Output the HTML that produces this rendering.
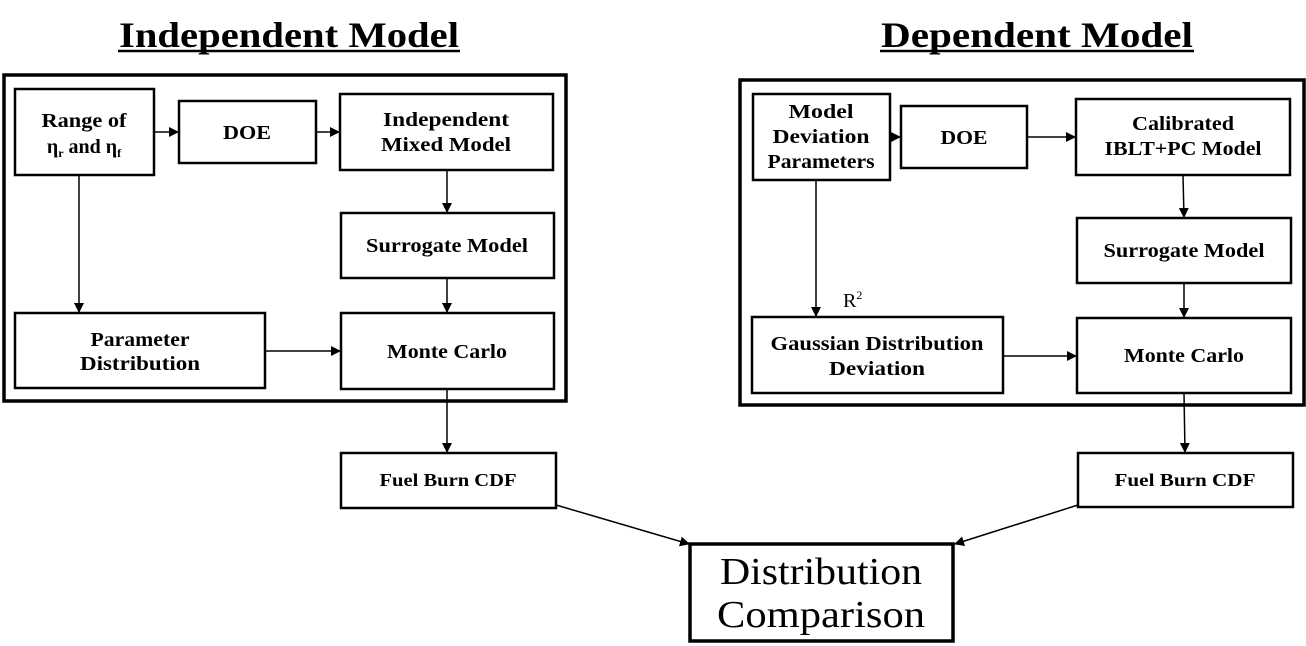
<!DOCTYPE html>
<html><head><meta charset="utf-8"><style>
html,body{margin:0;padding:0;background:#fff;}
svg{display:block;}
text{font-family:"Liberation Serif",serif;fill:#000;}
.b{font-weight:bold;font-size:20px;}
</style></head><body>
<svg width="1306" height="646" viewBox="0 0 1306 646" xmlns="http://www.w3.org/2000/svg">
<defs><marker id="a" markerWidth="10" markerHeight="10" refX="9" refY="5" orient="auto" markerUnits="userSpaceOnUse"><path d="M0,0 L10,5 L0,10 z" fill="#000"/></marker></defs>
<g fill="none" stroke="#000">
<rect x="4" y="75" width="562" height="326" stroke-width="3.5"/>
<rect x="740" y="80" width="564" height="325" stroke-width="3.5"/>
<g stroke-width="2.5">
<rect x="15" y="89" width="139" height="86"/>
<rect x="179" y="101" width="137" height="62"/>
<rect x="340" y="94" width="213" height="76"/>
<rect x="341" y="213" width="213" height="65"/>
<rect x="15" y="313" width="250" height="75"/>
<rect x="341" y="313" width="213" height="76"/>
<rect x="753" y="94" width="137" height="86"/>
<rect x="901" y="106" width="126" height="62"/>
<rect x="1076" y="99" width="214" height="76"/>
<rect x="1077" y="218" width="214" height="65"/>
<rect x="752" y="317" width="251" height="76"/>
<rect x="1077" y="318" width="214" height="75"/>
<rect x="341" y="453" width="215" height="55"/>
<rect x="1078" y="453" width="215" height="54"/>
</g>
<rect x="690" y="544" width="263" height="97" stroke-width="3.5"/>
<g stroke-width="1.5" marker-end="url(#a)">
<line x1="155" y1="132" x2="178" y2="132"/>
<line x1="317" y1="132" x2="339" y2="132"/>
<line x1="447" y1="171" x2="447" y2="212"/>
<line x1="447" y1="279" x2="447" y2="312"/>
<line x1="79" y1="176" x2="79" y2="312"/>
<line x1="266" y1="351" x2="340" y2="351"/>
<line x1="447" y1="390" x2="447" y2="452"/>
<line x1="891" y1="137" x2="900" y2="137"/>
<line x1="1028" y1="137" x2="1075" y2="137"/>
<line x1="1183" y1="176" x2="1184" y2="217"/>
<line x1="1184" y1="284" x2="1184" y2="317"/>
<line x1="816" y1="181" x2="816" y2="316"/>
<line x1="1004" y1="356" x2="1076" y2="356"/>
<line x1="1184" y1="394" x2="1185" y2="452"/>
<line x1="556" y1="505" x2="689" y2="544"/>
<line x1="1078" y1="505" x2="955" y2="544"/>
</g>
</g>
<text x="119" y="47" font-size="36" font-weight="bold" textLength="340" lengthAdjust="spacingAndGlyphs">Independent Model</text>
<line x1="118" y1="51" x2="460" y2="51" stroke="#000" stroke-width="2.5"/>
<text x="881" y="47" font-size="36" font-weight="bold" textLength="312" lengthAdjust="spacingAndGlyphs">Dependent Model</text>
<line x1="880" y1="51" x2="1194" y2="51" stroke="#000" stroke-width="2.5"/>
<g text-anchor="middle">
<text class="b" x="84" y="127" textLength="85" lengthAdjust="spacingAndGlyphs">Range of</text>
<text class="b" x="84" y="153">η<tspan font-size="12" dy="4">r</tspan><tspan dy="-4"> and η</tspan><tspan font-size="12" dy="4">f</tspan></text>
<text class="b" x="247" y="139" textLength="48" lengthAdjust="spacingAndGlyphs">DOE</text>
<text class="b" x="446" y="126" textLength="126" lengthAdjust="spacingAndGlyphs">Independent</text>
<text class="b" x="446" y="151" textLength="130" lengthAdjust="spacingAndGlyphs">Mixed Model</text>
<text class="b" x="447" y="252" textLength="162" lengthAdjust="spacingAndGlyphs">Surrogate Model</text>
<text class="b" x="140" y="346" textLength="99" lengthAdjust="spacingAndGlyphs">Parameter</text>
<text class="b" x="140" y="370" textLength="120" lengthAdjust="spacingAndGlyphs">Distribution</text>
<text class="b" x="447" y="358" textLength="120" lengthAdjust="spacingAndGlyphs">Monte Carlo</text>
<text class="b" x="821" y="118" textLength="65" lengthAdjust="spacingAndGlyphs">Model</text>
<text class="b" x="821" y="143" textLength="97" lengthAdjust="spacingAndGlyphs">Deviation</text>
<text class="b" x="821" y="168" textLength="107" lengthAdjust="spacingAndGlyphs">Parameters</text>
<text class="b" x="964" y="144" textLength="47" lengthAdjust="spacingAndGlyphs">DOE</text>
<text class="b" x="1183" y="130" textLength="102" lengthAdjust="spacingAndGlyphs">Calibrated</text>
<text class="b" x="1183" y="155" textLength="157" lengthAdjust="spacingAndGlyphs">IBLT+PC Model</text>
<text class="b" x="1184" y="257" textLength="161" lengthAdjust="spacingAndGlyphs">Surrogate Model</text>
<text class="b" x="877" y="350" textLength="213" lengthAdjust="spacingAndGlyphs">Gaussian Distribution</text>
<text class="b" x="877" y="375" textLength="96" lengthAdjust="spacingAndGlyphs">Deviation</text>
<text class="b" x="1184" y="362" textLength="120" lengthAdjust="spacingAndGlyphs">Monte Carlo</text>
<text x="448" y="486" font-size="18" font-weight="bold" textLength="137" lengthAdjust="spacingAndGlyphs">Fuel Burn CDF</text>
<text x="1185" y="486" font-size="18" font-weight="bold" textLength="141" lengthAdjust="spacingAndGlyphs">Fuel Burn CDF</text>
</g>
<text x="843" y="307" font-size="20">R<tspan font-size="12" dy="-8">2</tspan></text>
<text x="821" y="584" text-anchor="middle" font-size="38" textLength="202" lengthAdjust="spacingAndGlyphs">Distribution</text>
<text x="821" y="627" text-anchor="middle" font-size="38" textLength="208" lengthAdjust="spacingAndGlyphs">Comparison</text>
</svg>
</body></html>
